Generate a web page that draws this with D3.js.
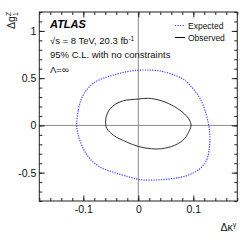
<!DOCTYPE html>
<html lang="en">
<head>
<meta charset="utf-8">
<title>ATLAS aTGC limits</title>
<script src="https://d3js.org/d3.v7.min.js"></script>
<style>
  body { margin: 0; background: #fff; }
  svg { font-family: "Liberation Sans", Arial, sans-serif; }
</style>
</head>
<body>
<div id="chart"></div>
<script>
// contour points (delta kappa gamma, delta g1 Z)
var expectedDk = [-0.112, -0.109, -0.103, -0.094, -0.082, -0.064, -0.045, -0.021, 0, 0.018, 0.036, 0.060, 0.084, 0.099, 0.112, 0.121, 0.128,
                  0.130, 0.129, 0.124, 0.112, 0.090, 0.060, 0.030, 0.005, -0.021, -0.045, -0.070, -0.088, -0.100, -0.109];
var expectedDg = [0, 0.163, 0.287, 0.375, 0.446, 0.498, 0.533, 0.568, 0.584, 0.586, 0.579, 0.544, 0.480, 0.393, 0.287, 0.163, 0.004,
                  -0.105, -0.247, -0.369, -0.458, -0.528, -0.564, -0.578, -0.575, -0.538, -0.496, -0.440, -0.352, -0.247, -0.105];
var observedDk = [-0.059, -0.059, -0.053, -0.042, -0.027, 0, 0.018, 0.042, 0.066, 0.084, 0.093, 0.096,
                  0.093, 0.084, 0.066, 0.042, 0.024, 0, -0.021, -0.045, -0.057];
var observedDg = [0, 0.075, 0.163, 0.223, 0.261, 0.279, 0.287, 0.261, 0.198, 0.121, 0.057, 0,
                  -0.052, -0.141, -0.211, -0.247, -0.247, -0.223, -0.176, -0.105, -0.035];

var xTicks = [-0.1, 0, 0.1];
var yTicks = [-0.5, 0, 0.5, 1];
var xMinor = d3.range(-18, 19, 2).map(function(v) { return v / 100; });
var yMinor = d3.range(-8, 13, 1).map(function(v) { return v / 10; });

var infoLines = ["95% C.L. with no constraints", "\u039B=\u221E"];
var legendNames = ["Expected", "Observed"];

var width = 249, height = 240;
var margin = {top: 12, right: 11.7, bottom: 39, left: 39.3};

var svg = d3.select("#chart").append("svg")
  .attr("width", width)
  .attr("height", height);

var x = d3.scaleLinear().domain([-0.18, 0.18]).range([margin.left, width - margin.right]);
var y = d3.scaleLinear().domain([-0.8, 1.2]).range([height - margin.bottom, margin.top]);

var fmt = function(d) { return String(d); };

// zero lines
svg.append("line")
  .attr("x1", x(0)).attr("x2", x(0))
  .attr("y1", y.range()[0]).attr("y2", y.range()[1])
  .attr("stroke", "#8a8a8a").attr("stroke-width", 1);
svg.append("line")
  .attr("x1", x.range()[0]).attr("x2", x.range()[1])
  .attr("y1", y(0)).attr("y2", y(0))
  .attr("stroke", "#8a8a8a").attr("stroke-width", 1);

// contours
var line = d3.line()
  .x(function(d) { return x(d[0]); })
  .y(function(d) { return y(d[1]); })
  .curve(d3.curveCatmullRomClosed.alpha(0.5));

svg.append("path")
  .datum(d3.zip(expectedDk, expectedDg))
  .attr("d", line)
  .attr("fill", "none")
  .attr("stroke", "#3b3bff")
  .attr("stroke-width", 1.2)
  .attr("stroke-dasharray", "1.2,1.3");

svg.append("path")
  .datum(d3.zip(observedDk, observedDg))
  .attr("d", line)
  .attr("fill", "none")
  .attr("stroke", "#1a1a1a")
  .attr("stroke-width", 0.9);

// axes, ticks inward on all four sides
function styleAxis(g) {
  g.select(".domain").remove();
  g.selectAll(".tick line").attr("stroke", "#222");
  g.selectAll("text").attr("fill", "#111").style("font-size", "10.5px");
}

var bottom = height - margin.bottom, right = width - margin.right;

svg.append("g").attr("transform", "translate(0," + bottom + ")")
  .call(d3.axisBottom(x).tickValues(xTicks).tickSize(-5.5).tickPadding(5).tickFormat(fmt))
  .call(styleAxis);
svg.append("g").attr("transform", "translate(0," + bottom + ")")
  .call(d3.axisBottom(x).tickValues(xMinor).tickSize(-3).tickFormat(""))
  .call(styleAxis);
svg.append("g").attr("transform", "translate(0," + margin.top + ")")
  .call(d3.axisTop(x).tickValues(xTicks).tickSize(-5.5).tickFormat(""))
  .call(styleAxis);
svg.append("g").attr("transform", "translate(0," + margin.top + ")")
  .call(d3.axisTop(x).tickValues(xMinor).tickSize(-3).tickFormat(""))
  .call(styleAxis);

svg.append("g").attr("transform", "translate(" + margin.left + ",0)")
  .call(d3.axisLeft(y).tickValues(yTicks).tickSize(-5.5).tickPadding(3).tickFormat(fmt))
  .call(styleAxis);
svg.append("g").attr("transform", "translate(" + margin.left + ",0)")
  .call(d3.axisLeft(y).tickValues(yMinor).tickSize(-3).tickFormat(""))
  .call(styleAxis);
svg.append("g").attr("transform", "translate(" + right + ",0)")
  .call(d3.axisRight(y).tickValues(yTicks).tickSize(-5.5).tickFormat(""))
  .call(styleAxis);
svg.append("g").attr("transform", "translate(" + right + ",0)")
  .call(d3.axisRight(y).tickValues(yMinor).tickSize(-3).tickFormat(""))
  .call(styleAxis);

// frame
svg.append("rect")
  .attr("x", margin.left).attr("y", margin.top)
  .attr("width", right - margin.left).attr("height", bottom - margin.top)
  .attr("fill", "none").attr("stroke", "#222").attr("stroke-width", 1);

// axis titles
var xt = svg.append("text")
  .attr("x", right - 1).attr("y", 231)
  .attr("text-anchor", "end")
  .style("font-size", "10.5px").attr("fill", "#111");
xt.append("tspan").text("\u0394\u03BA");
xt.append("tspan").attr("dy", -4).style("font-size", "7px").text("\u03B3");

var yt = svg.append("text")
  .attr("transform", "translate(15," + (margin.top + 17) + ") rotate(-90)")
  .attr("text-anchor", "start")
  .style("font-size", "10.5px").attr("fill", "#111");
yt.append("tspan").text("\u0394g");
yt.append("tspan").attr("dy", -4).style("font-size", "7px").text("Z");
yt.append("tspan").attr("dx", -4.2).attr("dy", 7).style("font-size", "7px").text("1");

// ATLAS label and info
svg.append("text")
  .attr("x", 50).attr("y", 28)
  .style("font-size", "11px").style("font-weight", "bold").style("font-style", "italic")
  .attr("fill", "#000").text("ATLAS");

var energy = svg.append("text")
  .attr("x", 50).attr("y", 44)
  .style("font-size", "9.5px").attr("fill", "#111");
energy.append("tspan").text("\u221As = 8 TeV, 20.3 fb");
energy.append("tspan").attr("dy", -3.5).style("font-size", "6.5px").text("-1");

svg.selectAll(".info")
  .data(infoLines)
  .enter().append("text")
  .attr("class", "info")
  .attr("x", 50)
  .attr("y", function(d, i) { return 58 + i * 14.5; })
  .style("font-size", "9.5px").attr("fill", "#111")
  .text(function(d) { return d; });

// legend
var leg = svg.selectAll(".leg")
  .data(legendNames)
  .enter().append("g")
  .attr("class", "leg")
  .attr("transform", function(d, i) { return "translate(175," + (25.5 + i * 12) + ")"; });

leg.append("line")
  .attr("x1", 0).attr("x2", 10).attr("y1", 0).attr("y2", 0)
  .attr("stroke", function(d, i) { return i === 0 ? "#3b3bff" : "#111"; })
  .attr("stroke-width", function(d, i) { return i === 0 ? 1.2 : 1.1; })
  .attr("stroke-dasharray", function(d, i) { return i === 0 ? "1.2,1.3" : null; });

leg.append("text")
  .attr("x", 13).attr("y", 3)
  .style("font-size", "8.5px").attr("fill", "#111")
  .text(function(d) { return d; });
</script>
</body>
</html>
